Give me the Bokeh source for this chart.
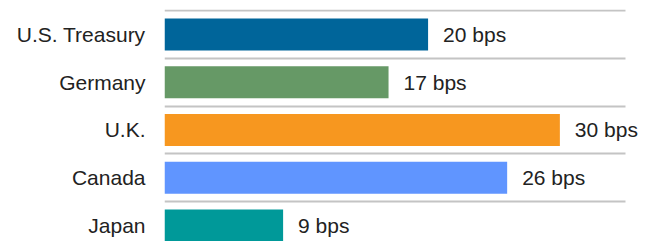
from bokeh.plotting import figure
from bokeh.models import ColumnDataSource, Range1d, FixedTicker, LabelSet
from bokeh.core.properties import value
from bokeh.embed import file_html
from bokeh.resources import INLINE

categories = ["U.S. Treasury", "Germany", "U.K.", "Canada", "Japan"]
values = [20, 17, 30, 26, 9]
colors = ["#00659a", "#669966", "#f7971f", "#6095ff", "#009999"]
labels = [f"{v} bps" for v in values]

pos = list(range(len(categories)))
src = ColumnDataSource(dict(y=pos, v=values, c=colors, lab=labels))

FONT = "Liberation Sans"
FS = "21px"

p = figure(width=654, height=241, output_backend="svg", toolbar_location=None,
           x_range=Range1d(0, 37.18), y_range=Range1d(4.333, -0.521),
           min_border_left=164, min_border_right=0, min_border_top=9, min_border_bottom=0)
p.outline_line_color = None
p.background_fill_color = "white"

p.hbar(y="y", left=0, right="v", height=0.67, color="c", source=src, line_color=None)

p.xaxis.visible = False
p.xgrid.visible = False

yax = p.yaxis[0]
yax.ticker = FixedTicker(ticks=pos)
yax.major_label_overrides = {i: c for i, c in enumerate(categories)}
yax.axis_line_color = None
yax.major_tick_line_color = None
yax.minor_tick_line_color = None
yax.major_tick_out = 0
yax.major_tick_in = 0
yax.major_label_standoff = 19
yax.major_label_text_font = FONT
yax.major_label_text_font_size = FS
yax.major_label_text_color = "#222222"

p.ygrid.ticker = FixedTicker(ticks=[i - 0.5 for i in pos])
p.ygrid.cross_bounds = (0, 35)
p.ygrid.grid_line_color = "#c4c4c4"
p.ygrid.grid_line_width = 2

ls = LabelSet(x="v", y="y", text="lab", source=src, x_offset=15,
              text_baseline="middle", text_align="left",
              text_font=value(FONT), text_font_size=value(FS), text_color="#222222")
p.add_layout(ls)

open("out.html", "w").write(file_html(p, INLINE))
